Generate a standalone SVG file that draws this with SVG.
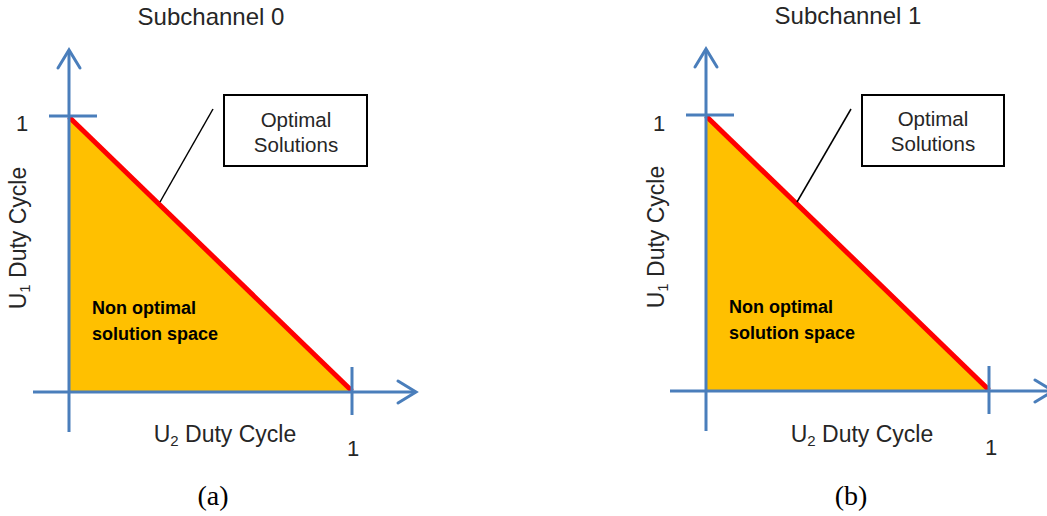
<svg xmlns="http://www.w3.org/2000/svg" width="1047" height="516" viewBox="0 0 1047 516">
<defs>
<style>
.ax{stroke:#4A7EBB;stroke-width:3;fill:none}
.hd{stroke:#4A7EBB;stroke-width:3;fill:none;stroke-linecap:round;stroke-linejoin:miter}
.reg{fill:#FFC000}
.opt{stroke:#FF0000;stroke-width:5;stroke-linecap:butt}
.lead{stroke:#000;stroke-width:1.5}
.box{fill:#fff;stroke:#000;stroke-width:2}
.t{font-family:"Liberation Sans",Arial,sans-serif;fill:#262626}
.ttl{font-size:24px}
.lbl{font-size:23px}
.num{font-size:22px}
.bx{font-size:20.5px}
.nb{font-size:18px;font-weight:bold;fill:#000}
.cap{font-family:"Liberation Serif","Times New Roman",serif;font-size:28px;fill:#000}
</style>
<g id="panel">
<polygon class="reg" points="69,117 69,391 352,391"/>
<line class="opt" x1="69" y1="117" x2="352" y2="391"/>
<line class="ax" x1="69" y1="50" x2="69" y2="432"/>
<polyline class="hd" points="58,68 69,50 80,68"/>
<line class="ax" x1="33" y1="392" x2="415" y2="392"/>
<polyline class="hd" points="398,381 416,392 398,403"/>
<line class="ax" x1="49" y1="116" x2="97" y2="116"/>
<line class="ax" x1="352" y1="367" x2="352" y2="415"/>
</g>
</defs>
<g id="panel-a">
<use href="#panel"/>
<text class="t ttl" x="211" y="25" text-anchor="middle">Subchannel 0</text>
<text class="t num" x="22" y="131" text-anchor="middle">1</text>
<text class="t num" x="353" y="456" text-anchor="middle">1</text>
<text class="t lbl" transform="translate(26,238) rotate(-90)" text-anchor="middle">U<tspan font-size="15" dy="4">1</tspan><tspan dy="-4"> Duty Cycle</tspan></text>
<text class="t lbl" x="225" y="442" text-anchor="middle">U<tspan font-size="15" dy="4">2</tspan><tspan dy="-4"> Duty Cycle</tspan></text>
<text class="t nb" x="92" y="314">Non optimal</text>
<text class="t nb" x="92" y="340">solution space</text>
<text class="cap" x="213" y="505" text-anchor="middle">(a)</text>
</g>
<g id="panel-b">
<use href="#panel" transform="translate(637,-1)"/>
<text class="t ttl" x="848" y="24" text-anchor="middle">Subchannel 1</text>
<text class="t num" x="659" y="131" text-anchor="middle">1</text>
<text class="t num" x="991" y="455" text-anchor="middle">1</text>
<text class="t lbl" transform="translate(664,237) rotate(-90)" text-anchor="middle">U<tspan font-size="15" dy="4">1</tspan><tspan dy="-4"> Duty Cycle</tspan></text>
<text class="t lbl" x="862" y="442" text-anchor="middle">U<tspan font-size="15" dy="4">2</tspan><tspan dy="-4"> Duty Cycle</tspan></text>
<text class="t nb" x="729" y="313">Non optimal</text>
<text class="t nb" x="729" y="339">solution space</text>
<text class="cap" x="851" y="505" text-anchor="middle">(b)</text>
</g>
<g id="connectors">
<line class="lead" x1="213" y1="109" x2="160" y2="202"/>
<line class="lead" x1="851" y1="109" x2="797" y2="202"/>
</g>
<g id="box-a">
<rect class="box" x="224" y="95" width="143" height="71"/>
<text class="t bx" x="296" y="127" text-anchor="middle">Optimal</text>
<text class="t bx" x="296" y="152" text-anchor="middle">Solutions</text>
</g>
<g id="box-b">
<rect class="box" x="862" y="95" width="142" height="71"/>
<text class="t bx" x="933" y="126" text-anchor="middle">Optimal</text>
<text class="t bx" x="933" y="151" text-anchor="middle">Solutions</text>
</g>
</svg>
